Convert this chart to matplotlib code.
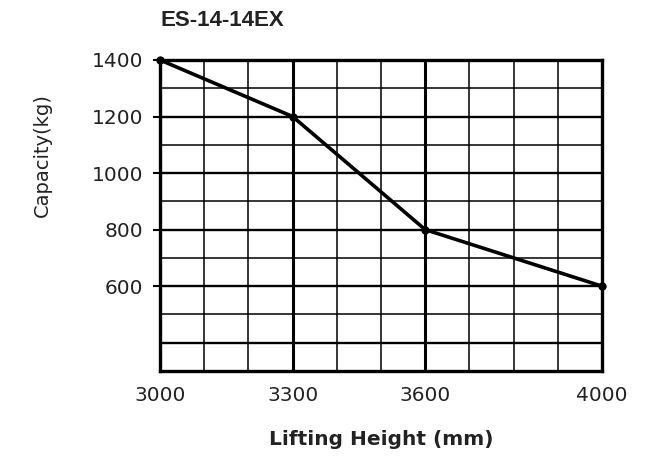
import matplotlib.pyplot as plt
import numpy as np

# data
heights = [3000, 3300, 3600, 4000]
capacities = [1400, 1200, 800, 600]
x_ticks = [3000, 3300, 3600, 4000]
y_ticks = [600, 800, 1000, 1200, 1400]

title = 'ES-14-14EX'
x_label = 'Lifting Height (mm)'
y_label = 'Capacity(kg)'

fig = plt.figure(figsize=(6.67, 4.58), dpi=100)
ax = fig.add_axes([0.240, 0.190, 0.6625, 0.679])

ax.set_xlim(3000, 4000)
ax.set_ylim(300, 1400)

# grid: thin every 100, heavier at labelled positions
for xv in np.arange(3100, 4000, 100):
    lw = 2.2 if xv in x_ticks else 1.1
    ax.axvline(xv, color='black', linewidth=lw, zorder=1)
for yv in np.arange(400, 1400, 100):
    lw = 1.7 if yv % 200 == 0 else 1.1
    ax.axhline(yv, color='black', linewidth=lw, zorder=1)

ax.plot(heights, capacities, color='black', linewidth=2.6, marker='o',
        markersize=5, clip_on=False, zorder=3)

for s in ax.spines.values():
    s.set_linewidth(2.4)
    s.set_color('black')

ax.set_xticks(x_ticks)
ax.set_yticks(y_ticks)
ax.tick_params(axis='x', length=0, pad=11, labelsize=14.5, labelcolor='#222222')
ax.tick_params(axis='y', length=5, width=1.5, pad=7, labelsize=14.5, labelcolor='#222222')

ax.set_xlabel(x_label, fontsize=14.5, fontweight='bold', color='#222222', labelpad=18)
ax.set_ylabel(y_label, fontsize=14, color='#222222')
ax.yaxis.set_label_coords(-0.245, 0.695)

fig.text(0.241, 0.955, title, fontsize=16, fontweight='bold',
         family='Liberation Sans', color='#222222', ha='left', va='center')

plt.savefig('out.png', dpi=100)
plt.close()
